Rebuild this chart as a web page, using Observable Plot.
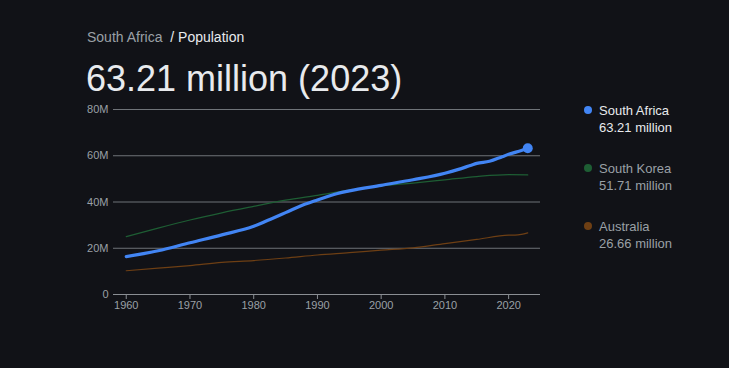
<!DOCTYPE html>
<html>
<head>
<meta charset="utf-8">
<script src="https://cdn.jsdelivr.net/npm/d3@7"></script>
<script src="https://cdn.jsdelivr.net/npm/@observablehq/plot@0.6"></script>
<style>
  html, body { margin: 0; padding: 0; background: #111217; width: 729px; height: 368px; overflow: hidden; font-family: "Liberation Sans", Arial, sans-serif; }
  #crumb { position: absolute; left: 87px; top: 28px; font-size: 14px; line-height: 18px; color: #9aa0a6; white-space: nowrap; }
  #crumb .cur { color: #e8eaed; }
  #big { position: absolute; left: 86px; top: 58px; font-size: 36px; line-height: 42px; color: #e8eaed; white-space: nowrap; }
  #chart { position: absolute; left: 0; top: 100px; }
  #legend { position: absolute; left: 583px; top: 102px; font-size: 13px; line-height: 17px; }
  .item { position: absolute; left: 0; width: 140px; }
  .dot { position: absolute; left: 1px; top: 4px; width: 8px; height: 8px; border-radius: 50%; }
  .txt { position: absolute; left: 16px; top: 0; white-space: nowrap; }
</style>
</head>
<body>
<div id="crumb"></div>
<div id="big"></div>
<div id="chart"></div>
<div id="legend"></div>
<script>
const countryName = "South Africa";
const metricName = "Population";
const headline = "63.21 million (2023)";

const seriesNames = ["South Africa", "South Korea", "Australia"];
const seriesColors = ["#4285f4", "#1e5e34", "#6e3f14"];
const seriesLatest = ["63.21 million", "51.71 million", "26.66 million"];

const southAfricaYears = [1960, 1965, 1970, 1975, 1980, 1983, 1985, 1988, 1990, 1993, 1995, 2000, 2005, 2010, 2012, 2014, 2015, 2017, 2019, 2020, 2022, 2023];
const southAfricaValues = [16.4, 18.9, 22.4, 25.8, 29.5, 33.0, 35.4, 39.0, 40.9, 43.6, 44.8, 47.2, 49.6, 52.4, 54.0, 55.8, 56.7, 57.6, 59.6, 60.6, 62.3, 63.21];

const southKoreaYears = [1960, 1965, 1970, 1975, 1980, 1985, 1990, 1995, 2000, 2005, 2010, 2015, 2020, 2023];
const southKoreaValues = [25.0, 28.7, 32.2, 35.3, 38.1, 40.8, 42.9, 45.1, 47.0, 48.2, 49.6, 51.0, 51.8, 51.71];

const australiaYears = [1960, 1965, 1970, 1975, 1980, 1985, 1990, 1995, 2000, 2005, 2010, 2015, 2020, 2021, 2022, 2023];
const australiaValues = [10.28, 11.39, 12.51, 13.89, 14.69, 15.79, 17.07, 18.07, 19.15, 20.18, 22.03, 23.82, 25.65, 25.69, 26.01, 26.66];

const yTicks = [0, 20, 40, 60, 80];
const yTickLabels = ["0", "20M", "40M", "60M", "80M"];
const xTicks = [1960, 1970, 1980, 1990, 2000, 2010, 2020];

const toRows = (name, years, vals) => years.map((y, i) => ({name, year: y, value: vals[i]}));
const sa = toRows(seriesNames[0], southAfricaYears, southAfricaValues);
const sk = toRows(seriesNames[1], southKoreaYears, southKoreaValues);
const au = toRows(seriesNames[2], australiaYears, australiaValues);

document.getElementById("crumb").innerHTML = `${countryName} <span class="cur">&nbsp;/&nbsp;${metricName}</span>`;
document.getElementById("big").textContent = headline;

const plot = Plot.plot({
  width: 729,
  height: 220,
  marginLeft: 113,
  marginRight: 189,
  marginTop: 9,
  marginBottom: 26,
  style: { background: "transparent", fontFamily: "'Liberation Sans', Arial, sans-serif", fontSize: "11px", color: "#9aa0a6" },
  x: { domain: [1958, 2025], label: null },
  y: { domain: [0, 80], label: null },
  marks: [
    Plot.gridY(yTicks.filter(d => d > 0), { stroke: "#6f7378", strokeOpacity: 1, strokeWidth: 1 }),
    Plot.ruleY([0], { stroke: "#8a8e93", strokeWidth: 1 }),
    Plot.axisX({ ticks: xTicks, tickFormat: d => String(d), tickSize: 5, tickPadding: 2, stroke: "#8a8e93", fill: "#9aa0a6" }),
    Plot.axisY({ ticks: yTicks, tickFormat: d => yTickLabels[yTicks.indexOf(d)], tickSize: 0, tickPadding: 5, fill: "#9aa0a6" }),
    Plot.line(au, { x: "year", y: "value", stroke: seriesColors[2], strokeWidth: 1.2, curve: "monotone-x" }),
    Plot.line(sk, { x: "year", y: "value", stroke: seriesColors[1], strokeWidth: 1.2, curve: "monotone-x" }),
    Plot.line(sa, { x: "year", y: "value", stroke: seriesColors[0], strokeWidth: 3.2, curve: "monotone-x" }),
    Plot.dot([sa[sa.length - 1]], { x: "year", y: "value", r: 5, fill: seriesColors[0] })
  ]
});
document.getElementById("chart").appendChild(plot);

const legend = document.getElementById("legend");
seriesNames.forEach((n, i) => {
  const item = document.createElement("div");
  item.className = "item";
  item.style.top = (i * 58) + "px";
  const dot = document.createElement("div");
  dot.className = "dot";
  dot.style.background = seriesColors[i];
  const txt = document.createElement("div");
  txt.className = "txt";
  txt.style.color = i === 0 ? "#e8eaed" : "#9aa0a6";
  txt.innerHTML = `${n}<br>${seriesLatest[i]}`;
  item.appendChild(dot);
  item.appendChild(txt);
  legend.appendChild(item);
});
</script>
</body>
</html>
